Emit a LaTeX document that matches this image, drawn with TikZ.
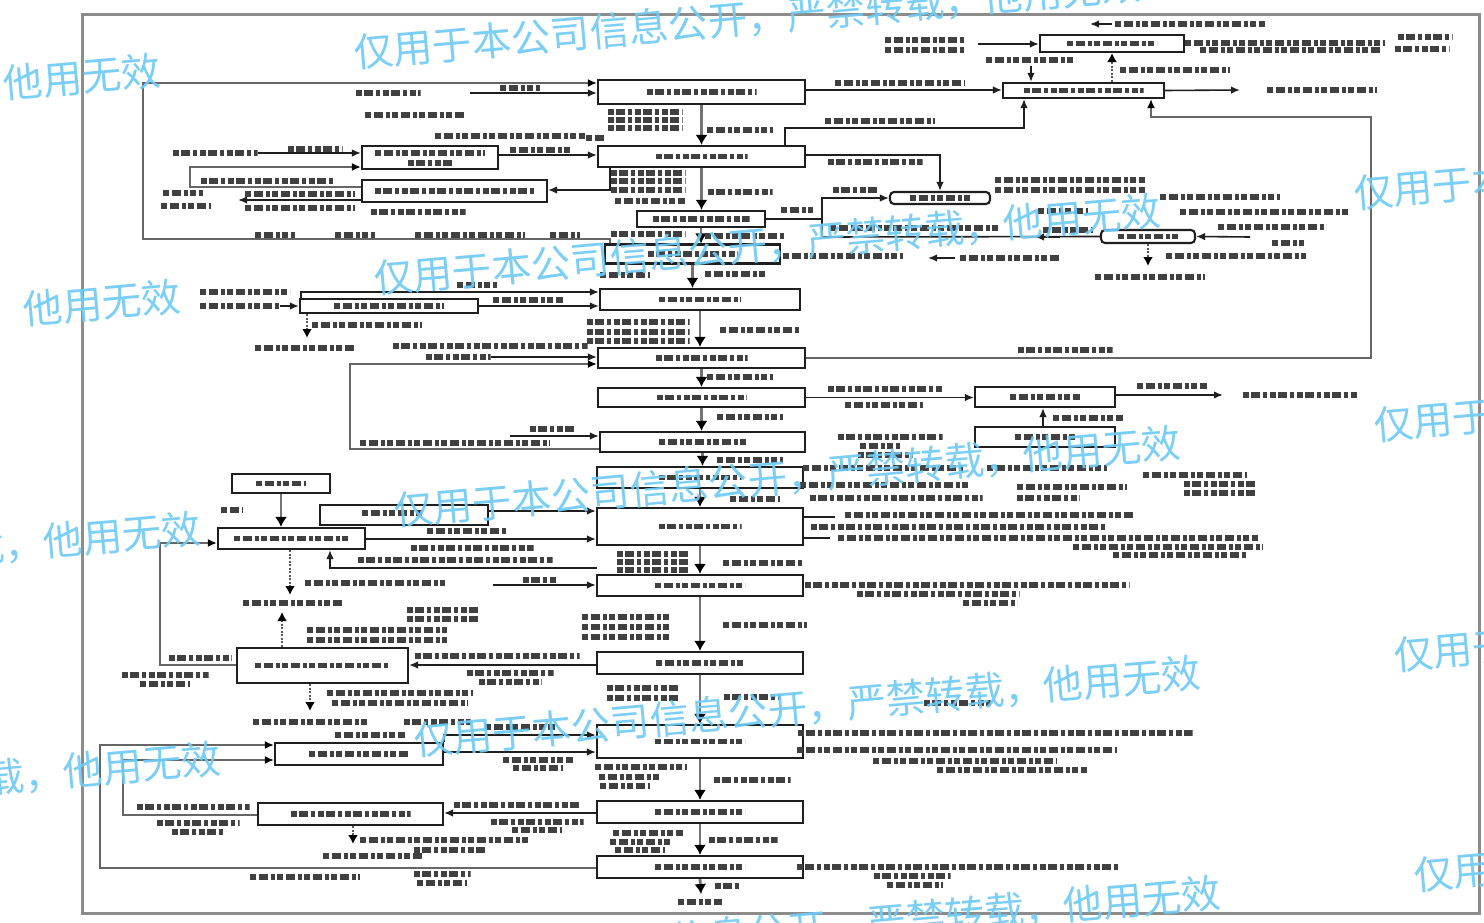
\documentclass[tikz,border=0pt]{standalone}
\usepackage{fontspec}
\newfontfamily\wmfont{Noto Sans CJK SC}
\usetikzlibrary{arrows.meta}
\definecolor{wmblue}{RGB}{112,202,245}
% a process box: [style]{name}{cx}{cy}{width}{height}
\newcommand\mkbox[6][box]{\node[#1,minimum width=#5pt,minimum height=#6pt] (#2) at (#3,#4) {};}
% a faded, unreadable line of lettering: {name}{cx}{cy}{width}
\newcommand\tlbl[4]{\node[txt,minimum width=#4pt] (#1) at (#2,#3) {};}
\begin{document}
\begin{tikzpicture}[x=1pt,y=-1pt,
  box/.style={draw=black!88,line width=2.1pt,inner sep=0pt,fill=white},
  rbox/.style={box,rounded corners=4pt},
  txt/.style={inner sep=0pt,minimum height=6pt,path picture={\draw[line width=5.4pt,draw=black!75,dash pattern=on 6pt off 2.5pt on 9pt off 3pt on 4pt off 2.5pt] (path picture bounding box.west) -- (path picture bounding box.east);}},
  arr/.style={draw=black!88,line width=1.6pt,-{Latex[length=9pt,width=7.5pt]}},
  ln/.style={draw=black!88,line width=1.6pt},
  recyc/.style={draw=black!60,line width=2.5pt,-{Latex[length=9pt,width=8pt,color=black]}},
  flow/.style={draw=black!55,line width=2.8pt,-{Latex[length=10pt,width=12pt,color=black]}},
  dots/.style={draw=black!65,line width=2.2pt,dash pattern=on 2pt off 1.5pt,-{Latex[length=9pt,width=10pt,color=black]}},
  outerframe/.style={draw=black!45,line width=3pt},
  wm/.style={font=\wmfont\fontsize{39.5}{40}\selectfont,text=wmblue,inner sep=0pt,opacity=0.92}]
\useasboundingbox (0,0) rectangle (1484,923);
\fill[white] (0,0) rectangle (1484,923);
\draw[outerframe] (82,15) rectangle (1479,913);

% ---------- main column ----------
\mkbox{M1}{701.5}{92}{207}{24}    \tlbl{M1t}{701.5}{92}{110}
\mkbox{M2}{701.5}{156.5}{207}{21} \tlbl{M2t}{701.5}{156.5}{92}
\mkbox{M3}{701}{219}{128}{16}     \tlbl{M3t}{701}{219}{97}
\mkbox{M4}{692.5}{254}{175}{19}   \tlbl{M4t}{692.5}{254}{90}
\mkbox{M5}{700}{299.5}{200}{21}   \tlbl{M5t}{700}{299.5}{82}
\mkbox{M6}{701.5}{358}{207}{20}   \tlbl{M6t}{701.5}{358}{92}
\mkbox{M7}{701.5}{397.5}{207}{19} \tlbl{M7t}{701.5}{397.5}{90}
\mkbox{M8}{702.5}{442}{205}{20}   \tlbl{M8t}{702.5}{442}{87}
\mkbox{M9}{700}{477.5}{206}{21}   \tlbl{M9t}{700}{477.5}{83}
\mkbox{M10}{700}{526.5}{206}{37}  \tlbl{M10t}{700}{526.5}{83}
\mkbox{M11}{700}{585.5}{206}{21}  \tlbl{M11t}{700}{585.5}{90}
\mkbox{M12}{700}{663}{206}{22}    \tlbl{M12t}{700}{663}{88}
\mkbox{M13}{700}{741.5}{206}{33}  \tlbl{M13t}{700}{741.5}{90}
\mkbox{M14}{700}{812}{206}{22}    \tlbl{M14t}{700}{812}{90}
\mkbox{M15}{700}{867}{206}{22}    \tlbl{M15t}{700}{867}{90}
\foreach \a/\b in {M1/M2,M2/M3,M3/M4,M4/M5,M5/M6,M6/M7,M7/M8,M8/M9,M9/M10,M10/M11,M11/M12,M12/M13,M13/M14,M14/M15}
  \draw[flow] (\a.south) -- (\a.south |- \b.north);
\coordinate (c24) at (701,894);
\draw[flow] (M15.south) -- (c24);

% ---------- upper left ----------
\mkbox{L1}{430}{157.5}{136}{23}  \tlbl{L1a}{430}{153}{110} \tlbl{L1b}{430}{163}{45}
\mkbox{L2}{454.5}{191}{185}{22}  \tlbl{L2t}{454.5}{191}{160}
\mkbox{L3}{389}{306}{178}{14}    \tlbl{L3t}{389}{306}{110}

\tlbl{a1}{388}{93}{65} \tlbl{a2}{520}{88}{40}
\coordinate (c1) at (470,93);
\draw[arr] (c1) -- (M1.west |- c1);
\draw[recyc] ([xshift=6pt]M4.north west) |- (143,239) |- (M1.west |- 0,83);
\tlbl{a3}{275}{235}{40} \tlbl{a4}{355}{235}{40} \tlbl{a5}{470}{235}{110} \tlbl{a6}{565}{235}{30}
\tlbl{a7}{415}{115}{100} \tlbl{a8}{510}{136}{150}
\tlbl{a9}{645}{112}{75} \tlbl{a10}{645}{120}{75} \tlbl{a11}{645}{128}{75}
\tlbl{a12}{740}{130}{66} \tlbl{a13}{596}{138}{20}

\tlbl{b1}{215}{153}{85} \tlbl{b2}{315}{149}{55}
\draw[arr] (b1.east) -- (L1.west |- b1.east);
\draw[arr] (L1.east |- 0,155) -- (M2.west |- 0,155);
\tlbl{b3}{540}{150}{60}
\draw[recyc] (L2.west |- 0,187) -| (190,167) -- (L1.west |- 0,167);
\tlbl{b4}{268}{181}{135}
\coordinate (c9) at (238,200);
\draw[arr] (L2.west |- 0,200) -- (c9);
\tlbl{b5}{300}{194}{110} \tlbl{b6}{300}{208}{110} \tlbl{b7}{183}{193}{40} \tlbl{b8}{186}{206}{50}
\draw[arr] (M2.south -| 610,0) |- (L2.east |- 0,190);
\tlbl{b9}{418}{212}{95}
\tlbl{b10}{648}{173}{75} \tlbl{b11}{648}{181}{75} \tlbl{b12}{648}{190}{75} \tlbl{b13}{650}{201}{70}
\tlbl{b14}{740}{192}{65} \tlbl{b15}{648}{234}{75} \tlbl{b16}{745}{236}{80}

% ---------- upper right ----------
\mkbox{R1}{1112}{43.5}{144}{17}   \tlbl{R1t}{1112}{43.5}{90}
\mkbox{R2}{1083.5}{90.5}{161}{15} \tlbl{R2t}{1083.5}{90.5}{120}
\mkbox[rbox]{R3}{940}{198}{100}{12}  \tlbl{R3t}{940}{198}{60}
\mkbox[rbox]{R4}{1148}{236.5}{94}{13} \tlbl{R4t}{1148}{236.5}{60}

\draw[arr] (M1.east |- 0,90) -- (R2.west |- 0,90);
\tlbl{a14}{900}{83}{130}
\draw[arr] (M2.north -| 785,0) |- (1024,128) -- (R2.south -| 1024,0);
\tlbl{a15}{880}{121}{110}
\draw[recyc] (M6.east) -- (1371,358) -- (1371,117) -| (R2.south -| 1151,0);
\tlbl{a16}{1065}{350}{95}
\coordinate (c4) at (1240,90);
\draw[arr] (R2.east) -- (c4);
\tlbl{a17}{1322}{90}{110}
\tlbl{a18}{925}{40}{80} \tlbl{a19}{925}{50}{80}
\coordinate (c5) at (978,44);
\draw[arr] (c5) -- (R1.west |- c5);
\draw[dots] (R2.north -| 1112,0) -- (R1.south -| 1112,0);
\tlbl{a20}{1175}{70}{110}
\tlbl{a21}{1031}{60}{90}
\coordinate (c6) at (1031,66);
\draw[arr] (c6) -- (R2.north -| c6);
\coordinate (c7) at (1112,24); \coordinate (c8) at (1090,24);
\draw[arr] (c7) -- (c8);
\tlbl{a22}{1190}{24}{150}
\tlbl{a23}{1285}{43}{200} \tlbl{a24}{1290}{50}{180} \tlbl{a25}{1425}{37}{55} \tlbl{a26}{1422}{49}{55}

\draw[arr] (M2.east |- 0,155) -| (R3.north);
\tlbl{d1}{875}{162}{95}
\coordinate (j1) at (822,237);
\draw[arr] (j1) |- (R3.west);
\draw[ln] (M3.east) -- (M3.east -| j1);
\tlbl{d2}{855}{190}{45} \tlbl{d3}{797}{210}{32}
\draw[ln] (R4.west) -- (j1);
\coordinate (c10) at (1060,237); \coordinate (c11) at (1035,237);
\draw[arr] (c10) -- (c11);
\tlbl{d4}{915}{228}{170} \tlbl{d5}{1068}{230}{50}
\tlbl{d6}{843}{256}{120} \tlbl{d7}{1010}{258}{100} \tlbl{d8}{1236}{256}{140}
\coordinate (c12) at (955,258); \coordinate (c13) at (928,258);
\draw[arr] (c12) -- (c13);
\coordinate (c14) at (1148,266);
\draw[dots] (R4.south) -- (c14);
\tlbl{d9}{1150}{277}{110}
\coordinate (c15) at (1250,237);
\draw[arr] (c15) -- (R4.east);
\tlbl{d10}{1272}{227}{108} \tlbl{d11}{1288}{243}{32}
\tlbl{d12}{1070}{180}{150} \tlbl{d13}{1070}{190}{150} \tlbl{d14}{1220}{197}{120}
\tlbl{d15}{1265}{212}{170} \tlbl{d16}{1063}{211}{50}
\tlbl{d17}{735}{274}{60} \tlbl{d18}{625}{275}{50}

% ---------- middle left ----------
\draw[arr] ([xshift=2pt]L3.north west) |- (M5.west |- 0,292);
\tlbl{e1}{477}{285}{40}
\draw[arr] (L3.east) -- (M5.west |- L3.east);
\tlbl{e2}{528}{300}{70}
\tlbl{e3}{245}{292}{90} \tlbl{e4}{240}{306}{80}
\draw[arr] (e4.east) -- (L3.west |- e4.east);
\coordinate (c16) at (307,338);
\draw[dots] (L3.south -| c16) -- (c16);
\tlbl{e5}{367}{325}{110} \tlbl{e6}{305}{348}{100}
\tlbl{e7}{490}{346}{195} \tlbl{e8}{458}{357}{65}
\draw[arr] (e8.east) -- (M6.west |- e8.east);
\draw[recyc] (M8.west |- 0,449) -| (350,364) -- (M6.west |- 0,364);
\tlbl{e9}{455}{443}{190} \tlbl{e10}{552}{429}{45}
\coordinate (c17) at (510,436);
\draw[arr] (c17) -- (M8.west |- c17);
\tlbl{f1}{638}{322}{103} \tlbl{f2}{638}{332}{103} \tlbl{f3}{638}{341}{103} \tlbl{f4}{760}{330}{80}
\tlbl{f5}{740}{377}{66} \tlbl{f6}{750}{417}{66} \tlbl{f7}{750}{460}{66} \tlbl{f8}{755}{499}{50}

% ---------- middle right ----------
\mkbox{RB1}{1045}{397}{140}{20} \tlbl{RB1t}{1045}{397}{70}
\mkbox{RB2}{1045}{437}{140}{20} \tlbl{RB2t}{1045}{437}{60}
\draw[arr] (M7.east) -- (RB1.west |- M7.east);
\tlbl{g1}{885}{389}{115} \tlbl{g2}{884}{405}{78}
\coordinate (c18) at (1223,395);
\draw[arr] (RB1.east |- c18) -- (c18);
\tlbl{g3}{1172}{386}{70} \tlbl{g4}{1300}{395}{115}
\draw[arr] (RB2.north -| 1043,0) -- (RB1.south -| 1043,0);
\tlbl{g5}{1088}{418}{70}
\tlbl{g6}{890}{437}{105} \tlbl{g7}{880}{446}{40} \tlbl{g8}{885}{455}{55}
\tlbl{g9}{883}{468}{160} \tlbl{g10}{1047}{468}{120} \tlbl{g11}{885}{485}{170}
\tlbl{g12}{1072}{487}{110} \tlbl{g13}{896}{498}{173} \tlbl{g14}{1048}{498}{63}
\tlbl{g15}{1195}{475}{104} \tlbl{g16}{1220}{484}{73} \tlbl{g17}{1220}{493}{73}
\coordinate (c22) at (835,517);
\draw[ln] (M10.east |- c22) -- (c22);
\tlbl{g18}{990}{515}{290} \tlbl{g19}{958}{527}{295}
\coordinate (c23) at (830,538);
\draw[ln] (M10.east |- c23) -- (c23);
\tlbl{g20}{1048}{538}{420} \tlbl{g21}{1168}{547}{190} \tlbl{g22}{1180}{555}{134}
\tlbl{g23}{967}{585}{325} \tlbl{g24}{938}{594}{163} \tlbl{g25}{990}{603}{54}
\tlbl{g30}{957}{703}{67}
\tlbl{g26}{995}{733}{395} \tlbl{g27}{957}{750}{320} \tlbl{g28}{965}{761}{184} \tlbl{g29}{1012}{770}{150}
\tlbl{g31}{958}{867}{323} \tlbl{g32}{912}{876}{77} \tlbl{g33}{915}{885}{56}

% ---------- labels along the lower main column ----------
\tlbl{h2}{653}{554}{73} \tlbl{h3}{653}{562}{73} \tlbl{h4}{653}{570}{73} \tlbl{h5}{763}{563}{80}
\tlbl{h6}{626}{617}{88} \tlbl{h7}{626}{627}{88} \tlbl{h8}{626}{637}{88} \tlbl{h1}{765}{625}{84}
\tlbl{h9}{643}{688}{73} \tlbl{h10}{643}{698}{73} \tlbl{h11}{752}{697}{57}
\tlbl{h12}{641}{767}{92} \tlbl{h13}{629}{777}{60} \tlbl{h14}{625}{786}{50} \tlbl{h15}{752}{780}{77}
\tlbl{h16}{648}{833}{70} \tlbl{h17}{640}{842}{60} \tlbl{h18}{640}{850}{50} \tlbl{h19}{743}{840}{69}
\tlbl{h20}{700}{902}{44} \tlbl{h21}{727}{886}{25}

% ---------- lower left ----------
\mkbox{LB1}{281}{483.5}{98}{19}   \tlbl{LB1t}{281}{483.5}{50}
\mkbox{LB2}{404}{515}{168}{20}    \tlbl{LB2t}{392}{513}{60}
\mkbox{LB3}{291.5}{538.5}{147}{21} \tlbl{LB3t}{291.5}{538.5}{115}
\mkbox{LB4}{322.5}{665.5}{171}{35} \tlbl{LB4t}{322.5}{665.5}{135}
\mkbox{LB5}{359}{754}{168}{22}    \tlbl{LB5t}{359}{754}{100}
\mkbox{LB6}{350.5}{814}{185}{22}  \tlbl{LB6t}{350.5}{814}{120}

\draw[flow] (LB1.south) -- (LB1.south |- LB3.north);
\tlbl{k1}{232}{510}{22}
\draw[arr] (LB2.east |- 0,511) -- (M10.west |- 0,511);
\draw[arr] (LB3.east |- 0,539) -- (M10.west |- 0,539);
\tlbl{k2}{467}{531}{80} \tlbl{k3}{472}{548}{123}
\coordinate (c25) at (597,568);
\draw[arr] (c25) -| (LB3.south -| 330,0);
\tlbl{k4}{455}{560}{195}
\coordinate (c26) at (290,595);
\draw[dots] (LB3.south -| c26) -- (c26);
\tlbl{k5}{293}{603}{100}
\coordinate (c27) at (282,612);
\draw[dots] (LB4.north -| c27) -- (c27);
\tlbl{k6}{375}{583}{140}
\coordinate (c28) at (493,585);
\draw[arr] (c28) -- (M11.west |- c28);
\tlbl{k7}{540}{580}{35}
\tlbl{k8}{443}{610}{73} \tlbl{k9}{443}{619}{73} \tlbl{k10}{377}{630}{140} \tlbl{k11}{377}{640}{140}
\draw[arr] (M12.west |- 0,665) -- (LB4.east |- 0,665);
\tlbl{k12}{497}{656}{165} \tlbl{k13}{510}{673}{87} \tlbl{k14}{510}{682}{63}
\draw[recyc] (LB4.west |- 0,665) -| (160,543) -- (LB3.west |- 0,543);
\tlbl{k15}{200}{658}{63} \tlbl{k16}{165}{675}{87} \tlbl{k17}{165}{684}{50}
\coordinate (c29) at (310,711);
\draw[dots] (LB4.south -| c29) -- (c29);
\tlbl{k18}{400}{693}{146} \tlbl{k19}{400}{703}{136} \tlbl{k20}{310}{722}{114} \tlbl{k21}{437}{722}{67}
\draw[recyc] (M15.west |- 0,868) -| (100,745) -- (LB5.west |- 0,745);
\tlbl{k22}{305}{877}{110} \tlbl{k23}{442}{874}{57} \tlbl{k24}{442}{883}{50}
\draw[recyc] (LB6.west |- 0,815) -| (123,760) -- (LB5.west |- 0,760);
\tlbl{k25}{193}{807}{113} \tlbl{k26}{198}{823}{83} \tlbl{k27}{198}{832}{53}
\draw[arr] (LB5.east |- 0,752) -- (M13.west |- 0,752);
\tlbl{k28}{538}{760}{70} \tlbl{k29}{538}{768}{50}
\draw[arr] (LB5.north east) |- (M13.west |- 0,735);
\tlbl{k30}{370}{735}{70} \tlbl{k31}{520}{727}{70}
\draw[arr] (M14.west |- 0,813) -- (LB6.east |- 0,813);
\tlbl{k32}{517}{805}{127} \tlbl{k33}{537}{822}{93} \tlbl{k34}{537}{830}{50}
\coordinate (c30) at (353,844);
\draw[dots] (LB6.south -| c30) -- (c30);
\tlbl{k35}{445}{840}{170} \tlbl{k36}{373}{856}{100} \tlbl{k37}{450}{850}{73}

% ---------- repeated notice printed across the sheet ----------
\begin{scope}
\clip (0,0) rectangle (1484,923);
\foreach \x/\y in {355/68,375/294,395/526,415/756,435/976}{
  \foreach \k in {-1,0,1}{
    \node[wm,anchor=base west,rotate=5] at (\x+980*\k,\y-85.7*\k) {仅用于本公司信息公开，严禁转载，他用无效};
  }
}
\end{scope}
\end{tikzpicture}
\end{document}
